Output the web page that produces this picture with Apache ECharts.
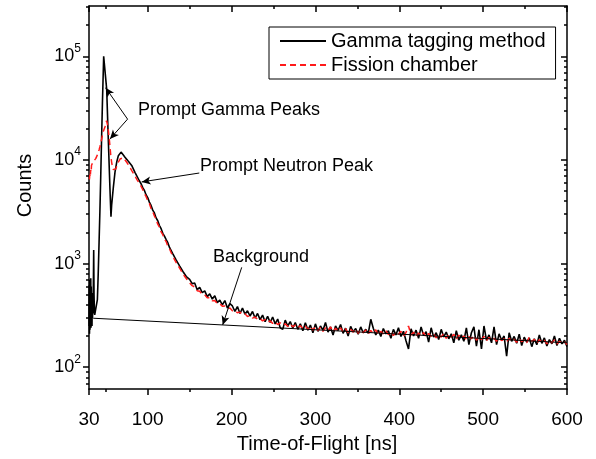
<!DOCTYPE html>
<html><head><meta charset="utf-8">
<script src="https://cdn.jsdelivr.net/npm/echarts@6/dist/echarts.min.js"></script>
<style>html,body{margin:0;padding:0;background:#fff}#c{width:596px;height:459px}</style>
</head><body><div id="c"></div>
<script>
// ---- data ----
const gammaEarlyTime = [30.0,30.3,30.6,30.9,31.2,31.5,31.8,32.1,32.4,32.7,33.0,33.3,33.6,33.9,34.2,34.5,34.8,35.2,35.6,36.0,36.4,36.8,38.5,40.0,41.0,42.0,43.0,44.0,45.0,46.0,47.5,51.1,53.0,55.0,56.2,57.0,59.0,61.0,63.0,65.0,68.2,70.5,72.9,76.9,80.9,84.8];
const gammaEarlyCounts = [250,620,210,700,230,560,260,720,240,600,280,520,250,480,300,420,330,600,1350,500,360,320,330,450,800,1600,3200,7000,16000,35000,100000,48000,15900,5250,2840,3660,5400,7640,9500,11000,11900,11300,10640,9700,8860,7600];

const fissionEarlyTime = [30.5,31.0,31.5,32.0,32.5,33.0,34,35,36,37,38,39,40,41,42,43,44,45,46,47,48,49,50,51,52,53,54,55,56,57,58,59,60,61,62,63,64,65,67,69,71,73,75,78,81,84,87];
const fissionEarlyCounts = [6500,7200,6800,8000,7600,8900,8700,9600,9200,9800,10300,10600,11200,11800,12500,13400,14500,15800,17300,18800,19800,20800,22500,23900,22000,19500,16500,13500,11000,9500,8600,8100,7900,7900,8200,8700,9200,9600,10200,10600,10500,10000,9500,8700,7900,7200,6500];

const midTime = [90,92,94,96,98,100,102,104,106,108,110,112,114,116,118,120,122,124,126,128,130,132,134,136,138,140,142,144,146,148];
const gammaMidCounts = [6300,5900,5450,5100,4620,4330,3920,3640,3280,3080,2760,2590,2330,2170,1960,1840,1700,1590,1430,1370,1240,1190,1080,1050,950,925,840,815,750,735];
const fissionMidCounts = [5950,5600,5200,4750,4450,4050,3800,3400,3180,2880,2680,2400,2250,2020,1900,1720,1630,1470,1390,1270,1200,1090,1045,960,920,850,815,755,725,680];

const tailTime = [150,153,156,159,162,165,168,171,174,177,180,183,186,189,192,195,198,201,204,207,210,213,216,219,222,225,228,231,234,237,240,243,246,249,252,255,258,261,264,267,270,273,276,279,282,285,288,291,294,297,300,303,306,309,312,315,318,321,324,327,330,333,336,339,342,345,348,351,354,357,360,363,366,369,372,375,378,381,384,387,390,393,396,399,402,405,408,411,414,417,420,423,426,429,432,435,438,441,444,447,450,453,456,459,462,465,468,471,474,477,480,483,486,489,492,495,498,501,504,507,510,513,516,519,522,525,528,531,534,537,540,543,546,549,552,555,558,561,564,567,570,573,576,579,582,585,588,591,594,597,600];
const gammaTailCounts = [705,640,650,560,590,525,545,480,510,455,
490,420,445,400,440,372,410,390,345,385,
330,372,325,350,312,345,298,330,288,318,
275,310,270,305,262,292,240,232,285,250,
276,238,270,232,262,225,268,228,255,215,
262,222,250,228,270,218,245,205,250,226,
258,212,238,200,248,220,236,208,245,215,
232,212,290,238,205,228,198,236,210,225,
190,232,205,240,198,222,180,150,235,200,
228,190,245,202,220,175,240,195,215,185,
232,196,218,188,210,172,225,182,205,178,
240,165,215,245,160,230,150,250,182,205,
172,245,165,210,182,200,128,215,178,198,
170,208,162,195,175,192,158,188,165,205,
170,192,160,185,168,200,162,190,168,182,
158];
const fissionTailCounts = [660,612,595,548,540,505,500,468,468,438,
440,410,410,388,390,368,372,350,355,335,
340,322,328,308,315,298,305,290,295,280,
288,272,280,265,275,258,268,255,262,248,
262,245,255,240,252,236,250,232,248,228,
246,225,244,222,240,226,245,220,238,222,
240,218,236,215,232,218,234,212,230,215,
228,210,226,212,230,205,222,210,226,206,
220,202,218,208,222,200,216,250,205,218,
198,214,200,216,195,212,198,210,192,208,
195,212,190,205,194,208,186,204,190,200,
185,198,188,202,182,196,185,198,180,194,
183,190,178,192,181,188,176,190,178,186,
174,188,176,184,172,195,178,186,170,184,
174,182,168,180,172,183,168,178,170,176,
166];

const backgroundTime = [35, 600];
const backgroundCounts = [297, 172];

const seriesNames = ['Gamma tagging method', 'Fission chamber'];
const xMajorTicks = [30,100,200,300,400,500,600];
const xMinorTicks = [50,150,250,350,450,550];
const yMajorTicks = [100,1000,10000,100000];
const yMinorTicks = [70,80,90,200,300,400,500,600,700,800,900,2000,3000,4000,5000,6000,7000,8000,9000,20000,30000,40000,50000,60000,70000,80000,90000,200000,300000];

// annotations: text and arrows (arrow ends in data space)
const annotationTexts = [
  {text:'Prompt Gamma Peaks', x:138, y:110},
  {text:'Prompt Neutron Peak', x:200, y:166},
  {text:'Background', x:213, y:257}
];
const arrows = [
  [[76.0, 24770], [49.8, 49770]],
  [[76.0, 24770], [55.0, 15940]],
  [[161.5, 7480], [92.8, 6140]],
  [[212.1, 920], [189.4, 256]]
];

// ---- chart ----
const FONT = '"Liberation Sans", Arial, Helvetica, sans-serif';
const X_MIN = 30, X_MAX = 600, Y_MIN = 61.5, Y_MAX = 306000;
const zip = (t, v) => t.map((x, i) => [x, v[i]]);

const gammaData = zip(gammaEarlyTime, gammaEarlyCounts).concat(zip(midTime, gammaMidCounts), zip(tailTime, gammaTailCounts));
const fissionData = zip(fissionEarlyTime, fissionEarlyCounts).concat(zip(midTime, fissionMidCounts), zip(tailTime, fissionTailCounts));
const backgroundData = zip(backgroundTime, backgroundCounts);

const lineBlack = {color:'#000', width:1.5};
function xAx(pos, ticks, len, inside, showLine, extra) {
  return Object.assign({
    type:'value', position:pos, min:X_MIN, max:X_MAX,
    axisLine:{show:showLine, onZero:false, lineStyle:lineBlack},
    axisTick:{show:true, customValues:ticks, length:len, inside:inside, lineStyle:lineBlack},
    axisLabel:{show:false},
    splitLine:{show:false}
  }, extra || {});
}
function yAx(pos, ticks, len, inside, showLine, extra) {
  return Object.assign({
    type:'log', logBase:10, position:pos, min:Y_MIN, max:Y_MAX,
    axisLine:{show:showLine, onZero:false, lineStyle:lineBlack},
    axisTick:{show:true, customValues:ticks, length:len, inside:inside, lineStyle:lineBlack},
    axisLabel:{show:false},
    splitLine:{show:false}
  }, extra || {});
}

const option = {
  animation:false,
  backgroundColor:'#fff',
  grid:{left:89, right:29, top:6, bottom:67, containLabel:false},
  legend:{
    orient:'vertical', left:269, top:27,
    data:seriesNames,
    itemWidth:46, itemHeight:14, itemGap:2, itemTextGap:5,
    padding:[3,10,3,10],
    borderColor:'#000', borderWidth:1, borderRadius:0,
    itemStyle:{opacity:0, color:'transparent', borderWidth:0},
    textStyle:{fontFamily:FONT, fontSize:20, color:'#000', lineHeight:22}
  },
  xAxis:[
    xAx('bottom', xMajorTicks, 6, false, true, {
      axisLabel:{show:true, customValues:xMajorTicks, fontFamily:FONT, fontSize:19, color:'#000', margin:21},
      name:'Time-of-Flight [ns]', nameLocation:'middle', nameGap:40,
      nameTextStyle:{fontFamily:FONT, fontSize:20, color:'#000', padding:[0,22,0,0]}
    }),
    xAx('bottom', xMinorTicks, 3, false, false),
    xAx('top', xMajorTicks, 6, true, true),
    xAx('top', xMinorTicks, 3, true, false)
  ],
  yAxis:[
    yAx('left', yMajorTicks, 6, false, true, {
      axisLabel:{show:true, customValues:yMajorTicks, margin:8,
        formatter:function(v){ return '{b|10}{s|' + Math.round(Math.log(v)/Math.LN10) + '}'; },
        rich:{
          b:{fontFamily:FONT, fontSize:18, color:'#000', lineHeight:18},
          s:{fontFamily:FONT, fontSize:12, color:'#000', lineHeight:12, padding:[0,0,16,0]}
        }},
      name:'Counts', nameLocation:'middle', nameGap:54,
      nameTextStyle:{fontFamily:FONT, fontSize:20, color:'#000', padding:[0,0,0,24]}
    }),
    yAx('left', yMinorTicks, 3, false, false),
    yAx('right', yMajorTicks, 6, true, true),
    yAx('right', yMinorTicks, 3, true, false)
  ],
  series:[
    {name:seriesNames[0], type:'line', xAxisIndex:0, yAxisIndex:0, data:gammaData,
      symbol:'none', lineStyle:{color:'#000', width:1.6}, itemStyle:{color:'#000'}, z:2},
    {name:seriesNames[1], type:'line', xAxisIndex:0, yAxisIndex:0, data:fissionData,
      symbol:'none', lineStyle:{color:'#ff1a1a', width:1.5, type:[6,4]}, itemStyle:{color:'#ff1a1a'}, z:3},
    {name:'Background', type:'line', xAxisIndex:0, yAxisIndex:0, data:backgroundData,
      symbol:'none', lineStyle:{color:'#000', width:1}, itemStyle:{color:'#000'}, z:4,
      markLine:{silent:true, animation:false, symbol:['none','arrow'], symbolSize:[6,9],
        lineStyle:{color:'#000', width:1, type:'solid'}, label:{show:false},
        data:arrows.map(a => [{coord:a[0]}, {coord:a[1]}])}
    }
  ],
  graphic:annotationTexts.map(a => ({type:'text', x:a.x, y:a.y, z:100,
    style:{text:a.text, font:'18px ' + FONT, fill:'#000', align:'left', verticalAlign:'middle'}}))
};

const chart = echarts.init(document.getElementById('c'), null, {renderer:'canvas'});
chart.setOption(option);
</script></body></html>
